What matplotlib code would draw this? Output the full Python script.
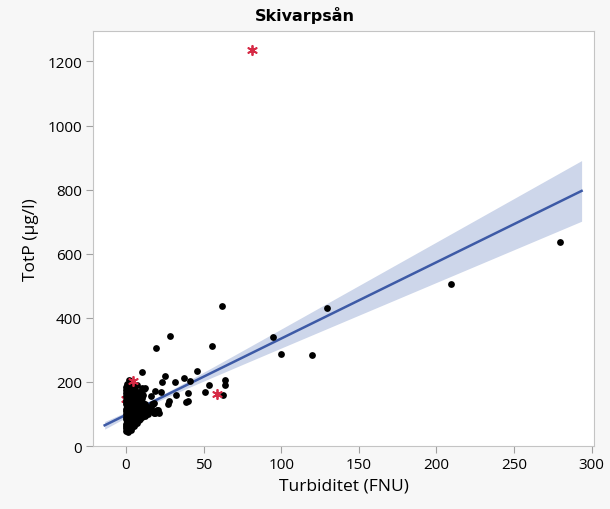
import matplotlib.pyplot as plt
import numpy as np

plt.rcParams['font.family'] = ['Open Sans', 'DejaVu Sans']

# Turbiditet (FNU) / TotP (µg/l) - vanliga prover
turb = [0.2, 0.1, 0.3, 0.0, 0.4, 0.2, 0.1, 0.3, 0.0, 0.2, 0.4, 0.1, 0.3, 0.2, 0.0, 0.3, 0.1, 0.2, 0.4,
        1.3, 1.1, 1.4, 1.2, 1.0, 1.5, 1.3, 1.2, 1.1, 1.4, 1.2, 1.0, 1.3, 1.5, 1.1, 1.2,
        2.1, 2.3, 2.0, 2.4, 2.2, 2.1, 2.5, 2.3, 2.0, 2.2, 2.4, 2.1, 2.3, 2.0, 2.0,
        3.2, 3.0, 3.4, 3.1, 3.3, 3.2, 3.0, 3.4, 3.1, 3.3, 3.2, 3.0, 3.1,
        4.1, 4.3, 4.0, 4.2, 4.4, 4.1, 4.3, 4.0, 4.2, 4.1,
        5.2, 5.0, 5.3, 5.1, 5.4, 5.2, 5.0, 5.3, 5.1,
        6.1, 6.3, 6.0, 6.2, 6.4, 6.1, 6.3, 6.0,
        7.2, 7.0, 7.3, 7.1, 7.4, 7.2, 7.0,
        8.1, 8.3, 8.0, 8.2, 8.4, 8.1,
        9.2, 9.0, 9.3, 9.1, 9.4,
        10.1, 10.3, 10.0, 10.2, 10.4,
        11.2, 11.0, 11.3, 11.1,
        12.1, 12.3, 12.0, 12.2,
        13.1, 13.3, 14.2, 14.0, 14.4,
        15.1, 16.2, 17.0, 18.1, 19.2, 20.3, 21.4, 18.3,
        14.8, 18.6, 20.6, 17.4, 27.0, 27.7, 38.8, 40.0, 32.4, 39.9, 22.8, 16.3, 18.5, 11.4,
        62.8, 50.8, 53.8, 63.9, 63.9, 41.4, 37.7, 31.8, 23.4, 24.9, 10.5, 45.7, 55.5, 19.5,
        28.7, 61.7, 2.0,
        94.5, 99.7, 119.6, 129.7, 209.6, 279.7]
totp = [48, 55, 62, 70, 78, 85, 92, 100, 108, 115, 122, 130, 138, 145, 155, 165, 175, 185, 195,
        45, 58, 66, 74, 82, 90, 98, 105, 112, 120, 128, 135, 150, 160, 172, 188,
        52, 60, 68, 76, 88, 95, 103, 110, 118, 126, 140, 152, 168, 180, 192,
        50, 63, 72, 80, 93, 100, 115, 125, 133, 145, 162, 178, 192,
        58, 70, 85, 97, 107, 120, 138, 155, 170, 185,
        62, 75, 90, 102, 113, 130, 148, 165, 180,
        68, 82, 95, 110, 125, 142, 160, 175,
        72, 88, 100, 118, 135, 152, 190,
        80, 95, 108, 128, 145, 170,
        85, 102, 115, 140, 165,
        90, 110, 125, 150, 180,
        98, 118, 135, 160,
        95, 112, 130, 182,
        105, 122, 100, 115, 108,
        110, 118, 130, 104, 110, 112, 104, 135,
        109, 104, 111, 130, 130, 141, 137, 140, 160, 164, 167, 156, 172, 179,
        160, 167, 190, 190, 206, 203, 211, 201, 201, 219, 231, 234, 312, 307,
        342, 437, 205,
        340, 288, 284, 431, 505, 638]

# uteliggare (markerade med *), den sista ligger dold i punktmolnet
turb_out = [81.3, 4.6, 58.5, 0.0]
totp_out = [1237, 204, 163, 146]

# linjär anpassning med 95 % konfidensintervall
fit_intercept = 97.2
fit_slope = 2.381
ci_base = 49.0
ci_coef = 0.1147
ci_xmean = 15.0

x_fit = np.linspace(-13.7, 293.5, 200)
y_fit = fit_intercept + fit_slope * x_fit
half = np.sqrt(ci_base + ci_coef * (x_fit - ci_xmean) ** 2)

fig = plt.figure(figsize=(6.1, 5.1), dpi=100, facecolor='#f7f7f7')
ax = fig.add_axes([0.1525, 0.1235, 0.8213, 0.8138])
ax.set_facecolor('white')

star = dict(s=45, marker=(6, 2, 0), color='#d62a45', lw=1.3)
ax.fill_between(x_fit, y_fit - half, y_fit + half, color='#cdd6ea', lw=0, zorder=1)
ax.plot(x_fit, y_fit, color='#3d5aa6', lw=1.8, zorder=2)
ax.scatter(turb_out[3:], totp_out[3:], zorder=3, **star)
ax.scatter(turb, totp, s=24, color='black', lw=0, zorder=4)
ax.scatter(turb_out[:3], totp_out[:3], zorder=5, **star)

ax.set_xlim(-21.2, 301.5)
ax.set_ylim(0, 1295)
ax.set_xticks(range(0, 301, 50))
ax.set_yticks(range(0, 1201, 200))

for s in ax.spines.values():
    s.set_color('#c4c4c4')
ax.tick_params(direction='out', length=5, color='#a0a0a0', labelsize=11, pad=3)

fig.text(0.5, 0.969, 'Skivarpsån', fontsize=11.5, fontweight='bold',
         family=['DejaVu Sans'], ha='center', va='center')
ax.set_xlabel('Turbiditet (FNU)', fontsize=12.5, labelpad=4)
ax.set_ylabel('TotP (µg/l)', fontsize=12.5, labelpad=6)

fig.savefig('out.png', dpi=100, facecolor=fig.get_facecolor())
